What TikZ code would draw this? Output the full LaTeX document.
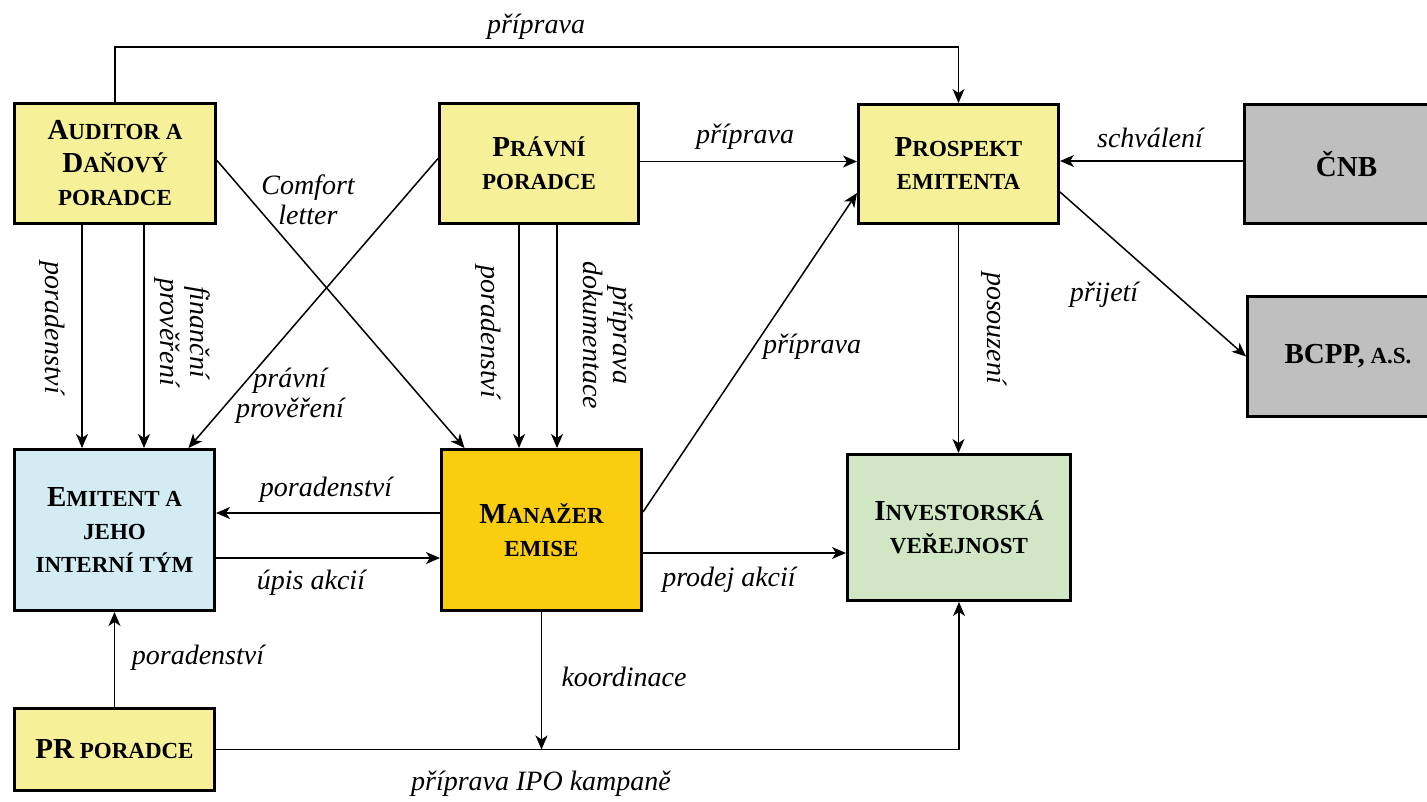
\documentclass[tikz,border=0pt]{standalone}
\usepackage{fontspec}
\setmainfont{Liberation Serif}
\usetikzlibrary{arrows.meta,calc}

\definecolor{boxyellow}{RGB}{246,241,153}
\definecolor{boxblue}{RGB}{211,236,243}
\definecolor{boxgold}{RGB}{250,205,15}
\definecolor{boxgreen}{RGB}{208,230,197}
\definecolor{boxgray}{RGB}{191,191,191}

% large initial letter for the faked small caps
\newcommand{\bigc}[1]{{\fontsize{29}{33}\selectfont #1}}

\tikzset{
  actor/.style={draw=black, line width=3pt, align=center,
    font=\bfseries\fontsize{23}{33}\selectfont,
    minimum width=#1, inner sep=2pt},
  flow/.style={line width=1.5pt, -{Stealth[length=14pt,width=12pt,inset=4pt]}},
  plain/.style={line width=1.5pt},
  lbl/.style={font=\itshape\fontsize{28}{30}\selectfont, align=center, inner sep=0pt},
}

\begin{document}
\begin{tikzpicture}[x=1pt, y=-1pt]
  \useasboundingbox (0,0) rectangle (1427,801);
  \fill[white] (0,0) rectangle (1427,801);

  % participants
  \node[actor=201pt, minimum height=120pt, fill=boxyellow] (aud) at (115,163.5)
    {\bigc{A}UDITOR A\\\bigc{D}AŇOVÝ\\PORADCE};
  \node[actor=199pt, minimum height=120pt, fill=boxyellow] (prav) at (539,163.5)
    {\bigc{P}RÁVNÍ\\PORADCE};
  \node[actor=200pt, minimum height=119pt, fill=boxyellow] (prosp) at (958.5,164)
    {\bigc{P}ROSPEKT\\EMITENTA};
  \node[actor=204pt, minimum height=119pt, fill=boxgray] (cnb) at (1346.5,164)
    {\bigc{ČNB}};
  \node[actor=201pt, minimum height=120pt, fill=boxgray] (bcpp) at (1348,356.5)
    {\bigc{BCPP,} A.S.};
  \node[actor=200pt, minimum height=161pt, fill=boxblue] (emit) at (114.5,530)
    {\bigc{E}MITENT A\\JEHO\\INTERNÍ TÝM};
  \node[actor=200pt, minimum height=161pt, fill=boxgold] (man) at (541.5,530)
    {\bigc{M}ANAŽER\\EMISE};
  \node[actor=223pt, minimum height=146pt, fill=boxgreen] (inv) at (959,527.5)
    {\bigc{I}NVESTORSKÁ\\VEŘEJNOST};
  \node[actor=200pt, minimum height=82pt, fill=boxyellow] (pr) at (114.5,749.5)
    {\bigc{PR} PORADCE};

  \coordinate (topline) at (0,47);

  % auditor
  \draw[flow] (aud.north) -- (aud.north |- topline) -- (prosp.north |- topline) -- (prosp.north);
  \draw[flow] ([xshift=-33pt]aud.south) -- ([xshift=-33pt]aud.south |- emit.north);
  \draw[flow] ([xshift=29pt]aud.south) -- ([xshift=29pt]aud.south |- emit.north);
  \draw[flow] ([yshift=3pt]aud.east) -- ([xshift=-77pt]man.north);

  % legal advisor
  \draw[flow] ([yshift=5pt]prav.west) -- ([xshift=74pt]emit.north);
  \draw[flow] ([xshift=-20pt]prav.south) -- ([xshift=-20pt]prav.south |- man.north);
  \draw[flow] ([xshift=18pt]prav.south) -- ([xshift=18pt]prav.south |- man.north);
  \draw[flow] ([yshift=2pt]prav.east) -- ([yshift=2pt]prav.east -| prosp.west);

  % prospectus
  \draw[flow] ([yshift=3pt]cnb.west) -- ([yshift=3pt]cnb.west -| prosp.east);
  \draw[flow] ([yshift=-28pt]prosp.east) -- (bcpp.west);
  \draw[flow] (prosp.south) -- (prosp.south |- inv.north);

  % lead manager
  \draw[flow] ([yshift=18pt]man.east) -- ([yshift=-29pt]prosp.west);
  \draw[flow] ([yshift=17pt]man.west) -- ([yshift=17pt]man.west -| emit.east);
  \draw[flow] ([yshift=-28pt]emit.east) -- ([yshift=-28pt]emit.east -| man.west);
  \draw[flow] ([yshift=-23pt]man.east) -- ([yshift=-23pt]man.east -| inv.west);
  \draw[flow] (man.south) -- (man.south |- pr.east);

  % PR advisor
  \draw[flow] (pr.north) -- (emit.south);
  \draw[flow] (pr.east) -| (inv.south);

  % connector labels
  \node[lbl] (l1) at (536,27) {příprava};
  \node[lbl] (l2) at (745,137) {příprava};
  \node[lbl] (l3) at (1150,138) {schválení};
  \node[lbl] (l4) at (308,200) {Comfort\\letter};
  \node[lbl, rotate=-90] (l5) at (52,328) {poradenství};
  \node[lbl, rotate=-90] (l6) at (182,332) {finanční\\prověření};
  \node[lbl] (l7) at (290,396) {právní\\prověření};
  \node[lbl, rotate=-90] (l8) at (488,332) {poradenství};
  \node[lbl, rotate=-90] (l9) at (608,335) {příprava\\dokumentace};
  \node[lbl] (l10) at (812,347) {příprava};
  \node[lbl, rotate=-90] (l11) at (994,328) {posouzení};
  \node[lbl] (l12) at (1104,295) {přijetí};
  \node[lbl] (l13) at (326,490) {poradenství};
  \node[lbl] (l14) at (311,583) {úpis akcií};
  \node[lbl] (l15) at (729,580) {prodej akcií};
  \node[lbl] (l16) at (624,677) {koordinace};
  \node[lbl] (l17) at (198,658) {poradenství};
  \node[lbl] (l18) at (541,784) {příprava IPO kampaně};
\end{tikzpicture}
\end{document}
